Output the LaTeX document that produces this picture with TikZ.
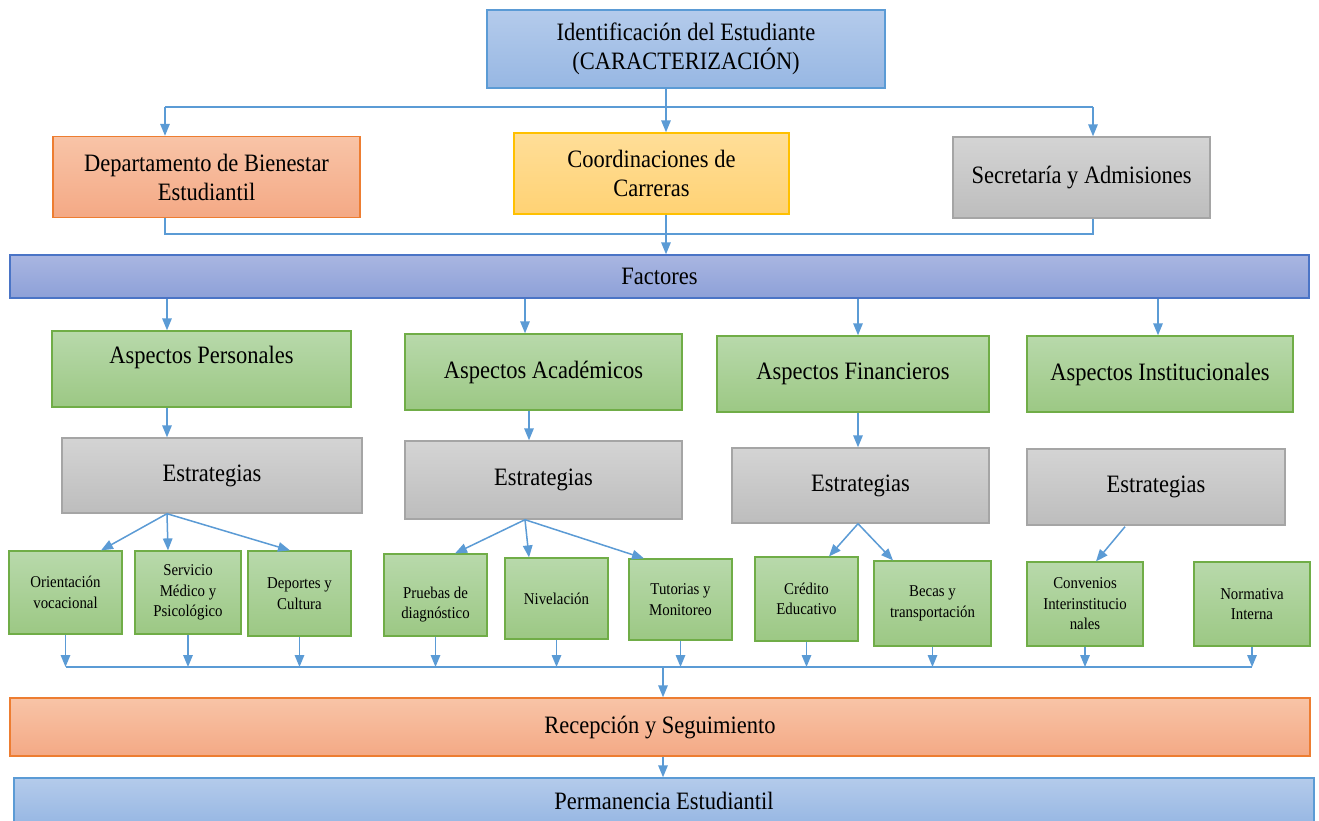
\documentclass[tikz,border=0pt]{standalone}
\usepackage{fontspec}
\setmainfont{Liberation Serif}[FakeStretch=0.9]
\usetikzlibrary{arrows.meta}

% palette
\definecolor{blueTop}{HTML}{B4CBEB}
\definecolor{blueBot}{HTML}{97B7E3}
\definecolor{blueLine}{HTML}{5B9BD5}
\definecolor{factTop}{HTML}{A9B6E1}
\definecolor{factBot}{HTML}{8DA0D8}
\definecolor{factLine}{HTML}{4A74C6}
\definecolor{orTop}{HTML}{F8C4A7}
\definecolor{orBot}{HTML}{F4A985}
\definecolor{orLine}{HTML}{ED7D31}
\definecolor{yeTop}{HTML}{FFDE98}
\definecolor{yeBot}{HTML}{FFD274}
\definecolor{yeLine}{HTML}{FFC000}
\definecolor{grTop}{HTML}{D4D4D4}
\definecolor{grBot}{HTML}{BDBDBD}
\definecolor{grLine}{HTML}{A5A5A5}
\definecolor{gnTop}{HTML}{B8D9AB}
\definecolor{gnBot}{HTML}{9CC884}
\definecolor{gnLine}{HTML}{70AD47}
\definecolor{arrowc}{HTML}{5B9BD5}

\newcommand\bigtxt{\fontsize{25}{29}\selectfont}
\newcommand\smalltxt{\fontsize{16.5}{20.5}\selectfont}

\tikzset{
  x=1pt, y=-1pt,
  box/.style={line width=1.4pt, inner sep=2pt, align=center, font=\bigtxt},
  sz/.style 2 args={minimum width=#1pt, minimum height=#2pt},
  bluebox/.style={box, draw=blueLine, top color=blueTop, bottom color=blueBot},
  factbox/.style={box, draw=factLine, top color=factTop, bottom color=factBot},
  orbox/.style={box, draw=orLine, top color=orTop, bottom color=orBot},
  yebox/.style={box, draw=yeLine, top color=yeTop, bottom color=yeBot},
  grbox/.style={box, draw=grLine, top color=grTop, bottom color=grBot},
  gnbox/.style={box, draw=gnLine, top color=gnTop, bottom color=gnBot},
  leaf/.style={gnbox, line width=1.2pt, font=\smalltxt},
  conn/.style={draw=arrowc, line width=1.5pt},
  arr/.style={conn, -{Triangle[width=9.5pt,length=12pt]}},
}

\begin{document}
\begin{tikzpicture}
\fill[white] (0,0) rectangle (1319,821);
\useasboundingbox (0,0) rectangle (1319,821);

% header and offices
\node[bluebox, sz={398}{78}] (ident) at (686,49) {Identificación del Estudiante\\(CARACTERIZACIÓN)};
\node[orbox, sz={307}{81}] (dep) at (206.5,177) {Departamento de Bienestar\\Estudiantil};
\node[yebox, sz={275}{81}] (coord) at (651.5,173.5) {Coordinaciones de\\Carreras};
\node[grbox, sz={257}{81}] (sec) at (1081.5,177.5) {Secretaría y Admisiones};

% factors band
\node[factbox, sz={1299}{43}] (fact) at (659.5,276.5) {Factores};

% aspects
\node[gnbox, sz={299}{76}] (ap) at (201.5,369) {Aspectos Personales\\\mbox{}};
\node[gnbox, sz={277}{76}] (aa) at (543.5,372) {Aspectos Académicos};
\node[gnbox, sz={272}{76}] (af) at (853,374) {Aspectos Financieros};
\node[gnbox, sz={266}{76}] (ai) at (1160,374) {Aspectos Institucionales};

% strategies
\node[grbox, sz={300}{75}] (e1) at (212,475.5) {Estrategias};
\node[grbox, sz={277}{78}] (e2) at (543.5,480) {Estrategias};
\node[grbox, sz={257}{75}] (e3) at (860.5,485.5) {Estrategias};
\node[grbox, sz={258}{76}] (e4) at (1156,487) {Estrategias};

% concrete actions
\node[leaf, sz={113}{83}] (ori) at (65.5,592.5) {Orientación\\vocacional};
\node[leaf, sz={106}{83}] (ser) at (188,592.5) {Servicio\\Médico y\\Psicológico};
\node[leaf, sz={103}{85}] (dpt) at (299.5,593.5) {Deportes y\\Cultura};
\node[leaf, sz={103}{82}] (pru) at (435.5,595) {\rule{0pt}{10.5pt}\\Pruebas de\\diagnóstico};
\node[leaf, sz={103}{81}] (niv) at (556.5,598.5) {Nivelación};
\node[leaf, sz={103}{81}] (tut) at (680.5,599.5) {Tutorias y\\Monitoreo};
\node[leaf, sz={103}{84}] (cre) at (806.5,599) {Crédito\\Educativo};
\node[leaf, sz={117}{85}] (bec) at (932.5,603.5) {Becas y\\transportación};
\node[leaf, sz={116}{84}] (cnv) at (1085,604) {Convenios\\Interinstitucio\\nales};
\node[leaf, sz={116}{84}] (nor) at (1252,604) {Normativa\\Interna};

% follow-up bands
\node[orbox, sz={1300}{58}] (rec) at (660,727) {Recepción y Seguimiento};
\node[bluebox, sz={1300}{46}] (perm) at (664,801) {Permanencia Estudiantil};

% guide lines for the connectors
\coordinate (xid) at (666,0);
\coordinate (xdep) at (165,0);
\coordinate (xsec) at (1093,0);
\coordinate (topbus) at (0,107);
\coordinate (midbus) at (0,234);
\coordinate (xa1) at (167,0);
\coordinate (xa2) at (525,0);
\coordinate (xa2b) at (529,0);
\coordinate (xa3) at (858,0);
\coordinate (xa4) at (1158,0);
\coordinate (xe4) at (1125,0);
\coordinate (bus) at (0,667);
\coordinate (xr) at (663,0);

% header to offices
\draw[arr] (ident.south -| xid) -- (coord.north -| xid);
\draw[conn] (topbus -| xdep) -- (topbus -| xsec);
\draw[arr] (topbus -| xdep) -- (dep.north -| xdep);
\draw[arr] (topbus -| xsec) -- (sec.north -| xsec);

% offices to factors
\draw[conn] (dep.south -| xdep) -- (midbus -| xdep) -- (midbus -| xsec) -- (sec.south -| xsec);
\draw[arr] (coord.south -| xid) -- (fact.north -| xid);

% factors to aspects
\draw[arr] (fact.south -| xa1) -- (ap.north -| xa1);
\draw[arr] (fact.south -| xa2) -- (aa.north -| xa2);
\draw[arr] (fact.south -| xa3) -- (af.north -| xa3);
\draw[arr] (fact.south -| xa4) -- (ai.north -| xa4);

% aspects to strategies
\draw[arr] (ap.south -| xa1) -- (e1.north -| xa1);
\draw[arr] (aa.south -| xa2b) -- (e2.north -| xa2b);
\draw[arr] (af.south -| xa3) -- (e3.north -| xa3);

% strategies to actions
\draw[arr] (e1.south -| xa1) -- ([xshift=35.5pt]ori.north);
\draw[arr] (e1.south -| xa1) -- ([xshift=-20pt]ser.north);
\draw[arr] (e1.south -| xa1) -- ([xshift=-9.5pt]dpt.north);
\draw[arr] (e2.south -| xa2) -- ([xshift=19.5pt]pru.north);
\draw[arr] (e2.south -| xa2) -- ([xshift=-27.5pt]niv.north);
\draw[arr] (e2.south -| xa2) -- ([xshift=-36.5pt]tut.north);
\draw[arr] (e3.south -| xa3) -- ([xshift=22.5pt]cre.north);
\draw[arr] (e3.south -| xa3) -- ([xshift=-39.5pt]bec.north);
\draw[arr] ([yshift=-1pt]e4.south -| xe4) -- ([xshift=11pt]cnv.north);

% actions gathered into follow-up
\draw[conn] (ori.south |- bus) -- (nor.south |- bus);
\foreach \n in {ori,ser,dpt,pru,niv,tut,cre,bec,cnv,nor}
  \draw[arr] (\n.south) -- (\n.south |- bus);
\draw[arr] (bus -| xr) -- (rec.north -| xr);
\draw[arr] (rec.south -| xr) -- (perm.north -| xr);
\end{tikzpicture}
\end{document}
